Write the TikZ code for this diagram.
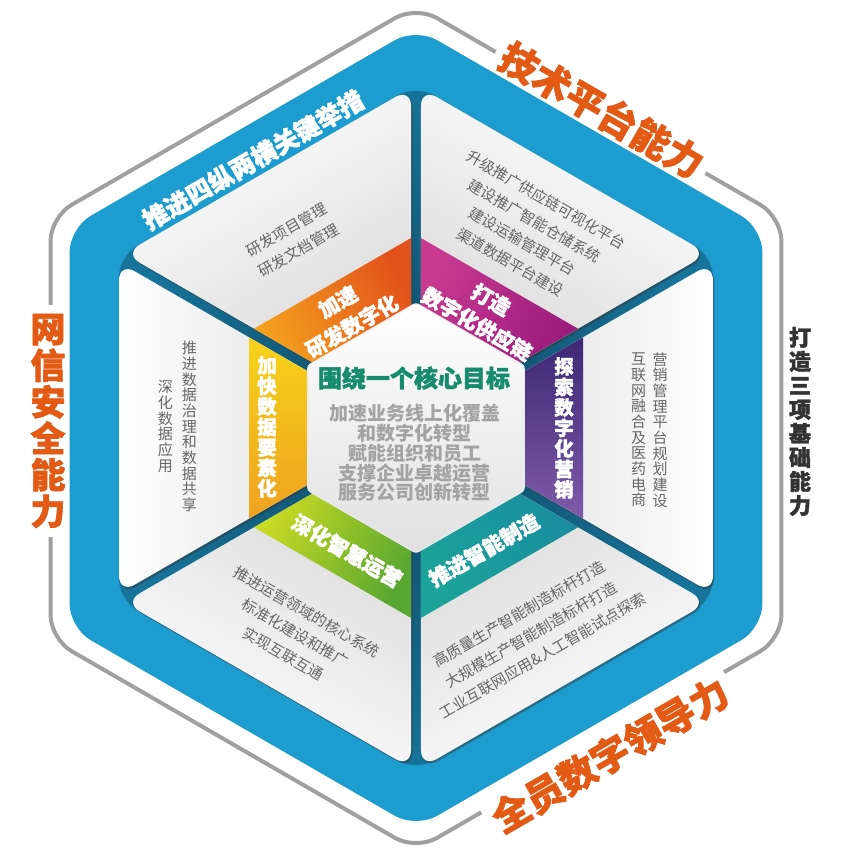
\documentclass[tikz,border=0pt]{standalone}
\usepackage{fontspec}
\newfontfamily\cjk{Noto Sans CJK SC}
\newfontfamily\cjkh{Noto Sans CJK SC}[BoldFeatures={FakeBold=1.8}]
\usetikzlibrary{shadows}
\definecolor{bandblue}{HTML}{1D9DCF}
\definecolor{gapdark}{HTML}{10465F}
\definecolor{gapout}{HTML}{16749A}
\definecolor{greyline}{HTML}{A0A0A0}
\definecolor{labelorange}{HTML}{E25A14}
\definecolor{titlegreen}{HTML}{178C6C}
\definecolor{centergrey}{HTML}{A3A3A3}
\definecolor{paneltext}{HTML}{666666}
\definecolor{basetext}{HTML}{333333}
\definecolor{panelgrey}{HTML}{D6D6D6}
\definecolor{orA}{HTML}{F3A01E}\definecolor{orB}{HTML}{E2521B}
\definecolor{mgA}{HTML}{C83A90}\definecolor{mgB}{HTML}{9B1B7C}
\definecolor{puA}{HTML}{3D2873}\definecolor{puB}{HTML}{7E5BA9}
\definecolor{tlA}{HTML}{1A8E9F}\definecolor{tlB}{HTML}{1BA399}
\definecolor{grA}{HTML}{58A731}\definecolor{grB}{HTML}{C9DA23}
\definecolor{yeA}{HTML}{EFA21F}\definecolor{yeB}{HTML}{F6D31B}
\newcommand\hexp[1]{(0:{#1*0.8660254}) -- (30:#1) -- (90:#1) -- (150:#1) -- (210:#1) -- (270:#1) -- (330:#1) -- cycle}
\begin{document}
\begin{tikzpicture}[x=1pt,y=1pt,
  ptext/.style={font=\cjk\fontsize{15}{24}\selectfont, text=paneltext, align=center, inner sep=0pt},
  vptext/.style={font=\cjk\fontsize{15}{15.7}\selectfont, text=paneltext, align=center, inner sep=0pt},
  blabel/.style={font=\cjkh\bfseries\fontsize{20.5}{28}\selectfont, text=white, align=center, inner sep=0pt},
  vblabel/.style={font=\cjkh\bfseries\fontsize{19.5}{20.5}\selectfont, text=white, align=center, inner sep=0pt},
  olabel/.style={font=\cjkh\bfseries\fontsize{38}{38}\selectfont, text=labelorange, fill=white, inner xsep=7pt, inner ysep=0pt},
  volabel/.style={font=\cjkh\bfseries\fontsize{35}{36.5}\selectfont, text=labelorange, fill=white, align=center, inner xsep=1pt, inner ysep=9pt},
  vbase/.style={font=\cjkh\bfseries\fontsize{22}{24}\selectfont, text=basetext, align=center, inner sep=0pt},
  bluelabel/.style={font=\cjkh\bfseries\fontsize{25}{25}\selectfont, text=white, inner sep=0pt},
  panel/.style={rounded corners=18pt, drop shadow={shadow xshift=1.5pt, shadow yshift=-2pt, opacity=0.45, fill=black!80}},
  centerhex/.style={top color=white, bottom color=black!12, draw=black!8, line width=1.2pt, rounded corners=3pt}
]
\useasboundingbox (-416,-423) rectangle (431,428);

% outer grey line
\draw[greyline, line width=4pt, rounded corners=24pt] \hexp{422};
\node[olabel, rotate=-30] (tech) at (186,318) {技术平台能力};
\node[olabel, rotate=30] (lead) at (194,-327) {全员数字领导力};
\node[volabel] (sec) at (-368,7) {网\\信\\安\\全\\能\\力};
\node[vbase] (base) at (384,6.5) {打\\造\\三\\项\\基\\础\\能\\力};

% blue band
\fill[bandblue, rounded corners=24pt] \hexp{400};
\node[bluelabel, rotate=30] (four) at (-163,268) {推进四纵两横关键举措};

% gaps
\shade[inner color=gapdark, outer color=gapout, rounded corners=20pt] \hexp{343};

% panels
\foreach \p/\s in {120/30, 60/-30, 0/-90, -60/-150, -120/-210, 180/90}{
  \path[panel, top color=white, bottom color=panelgrey, shading angle=\s]
    ({\p}:10) -- ({\p+29.16}:340.1) -- ({\p-29.16}:340.1) -- cycle;
}

% colored band ring
\foreach \p/\ca/\cb in {120/orA/orB, 60/mgA/mgB, 0/puA/puB, -60/tlA/tlB, -120/grA/grB, 180/yeA/yeB}{
  \path[top color=\ca, bottom color=\cb, shading angle=\p]
    ({\p+27.46}:112.7) -- ({\p+28.48}:190) -- ({\p-28.48}:190) -- ({\p-27.46}:112.7) -- cycle;
}

% central hexagon
\path[centerhex] \hexp{125};

% panel texts
\node[ptext, rotate=30] (rd) at (-123,188) {研发项目管理\\研发文档管理};
\node[ptext, rotate=-30] (sc) at (112,197) {升级推广供应链可视化平台\\建设推广智能仓储系统\\建设运输管理平台\\渠道数据平台建设};
\node[vptext] (mk1) at (244,-2) {营\\销\\管\\理\\平\\台\\规\\划\\建\\设};
\node[vptext] (mk2) at (222.5,-2) {互\\联\\网\\融\\合\\及\\医\\药\\电\\商};
\node[vptext] (da1) at (-226.5,1.5) {推\\进\\数\\据\\治\\理\\和\\数\\据\\共\\享};
\node[vptext] (da2) at (-250.5,1.5) {深\\化\\数\\据\\应\\用};
\node[ptext, rotate=-30] (op) at (-121,-205) {推进运营领域的核心系统\\标准化建设和推广\\实现互联互通};
\node[ptext, rotate=30] (mf) at (115,-207) {高质量生产智能制造标杆打造\\大规模生产智能制造标杆打造\\工业互联网应用\&人工智能试点探索};

% band labels
\node[blabel, rotate=30] (bor) at (-71,114) {加速\\研发数字化};
\node[blabel, rotate=-30] (bmg) at (68,116) {打造\\数字化供应链};
\node[vblabel] (bpu) at (148,0) {探\\索\\数\\字\\化\\营\\销};
\node[vblabel] (bye) at (-149,1) {加\\快\\数\\据\\要\\素\\化};
\node[blabel, rotate=-30] (bgr) at (-69,-123) {深化智慧运营};
\node[blabel, rotate=30] (btl) at (68,-122) {推进智能制造};

% center
\node[font=\cjkh\bfseries\fontsize{24}{24}\selectfont, text=titlegreen, inner sep=0pt] (title) at (-2,50) {围绕一个核心目标};
\node[font=\cjk\bfseries\fontsize{19}{19.8}\selectfont, text=centergrey, align=center, inner sep=0pt] (goals) at (-1,-25) {加速业务线上化覆盖\\和数字化转型\\赋能组织和员工\\支撑企业卓越运营\\服务公司创新转型};
\end{tikzpicture}
\end{document}
